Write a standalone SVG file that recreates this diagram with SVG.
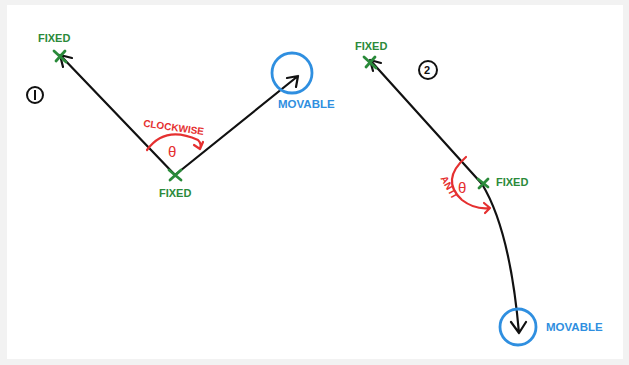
<svg xmlns="http://www.w3.org/2000/svg" width="629" height="365" viewBox="0 0 629 365">
<defs>
<style>
.ln{fill:none;stroke:#111;stroke-width:2.2;stroke-linecap:round;stroke-linejoin:round}
.rd{fill:none;stroke:#e53030;stroke-width:2.2;stroke-linecap:round;stroke-linejoin:round}
.bl{fill:none;stroke:#2f8fe0;stroke-width:2.8}
.gx{fill:none;stroke:#2a8a3a;stroke-width:2.8;stroke-linecap:round}
.g{fill:#2a8a3a;font-family:'Liberation Sans',sans-serif;font-weight:bold;font-size:11px}
.b{fill:#2f8fe0;font-family:'Liberation Sans',sans-serif;font-weight:bold;font-size:11.5px}
.r{fill:#e53030;font-family:'Liberation Sans',sans-serif;font-weight:bold;font-size:10px}
.th{fill:#e53030;font-family:'Liberation Sans',sans-serif;font-size:15px}
.k{fill:#111;font-family:'Liberation Sans',sans-serif;font-weight:bold;font-size:11px}
.num{fill:none;stroke:#111;stroke-width:2}
</style>
</defs>
<rect width="629" height="365" fill="#f2f2f2"/>
<rect x="7" y="5" width="616" height="354" fill="#fff"/>
<g id="connectors">
<path class="ln" d="M175 175 L60 55 M60 55 L63 67 M60 55 L72 58"/>
<path class="ln" d="M175 175 L298 76 M298 76 L287 78 M298 76 L296 87"/>
<path class="ln" d="M482 184 L370 60 M370 60 L373 71 M370 60 L381 63"/>
<path class="ln" d="M482 184 Q510 230 519 333 M519 333 L511 322 M519 333 L526 322"/>
<path class="rd" d="M147 150 Q165 125 198 140 Q202 144 200 149 M200 149 L194 145 M200 149 L203 142"/>
<path class="rd" d="M466 157 Q440 180 462 200 Q475 210 490 208 M490 208 L484 203 M490 208 L485 213"/>
</g>
<g id="fixed1">
<text class="g" x="38" y="42">FIXED</text>
<path class="gx" d="M54 51 L66 62 M65 51 L56 61"/>
</g>
<g id="num1">
<circle class="num" cx="35" cy="95" r="8"/>
<path d="M35 90 L35 100" stroke="#111" stroke-width="2"/>
</g>
<g id="vertex1">
<path class="gx" d="M169 170 L181 180 M181 170 L170 180"/>
<text class="g" x="159" y="197">FIXED</text>
</g>
<g id="movable1">
<circle class="bl" cx="292" cy="73" r="20"/>
<text class="b" x="278" y="108">MOVABLE</text>
</g>
<g id="angle1">
<text class="r" x="143" y="131" transform="rotate(8 175 128)">CLOCKWISE</text>
<text class="th" x="168" y="157">θ</text>
</g>
<g id="fixed2">
<text class="g" x="355" y="50">FIXED</text>
<path class="gx" d="M364 57 L376 68 M375 57 L366 67"/>
</g>
<g id="num2">
<circle class="num" cx="428" cy="70" r="9"/>
<text class="k" x="424" y="74">2</text>
</g>
<g id="vertex2">
<path class="gx" d="M478 179 L488 187 M488 179 L479 188"/>
<text class="g" x="496" y="186">FIXED</text>
</g>
<g id="angle2">
<text class="r" x="430" y="184" transform="rotate(60 440 190)">ANTI</text>
<text class="th" x="458" y="193">θ</text>
</g>
<g id="movable2">
<circle class="bl" cx="518" cy="327" r="18"/>
<text class="b" x="546" y="331">MOVABLE</text>
</g>
</svg>
